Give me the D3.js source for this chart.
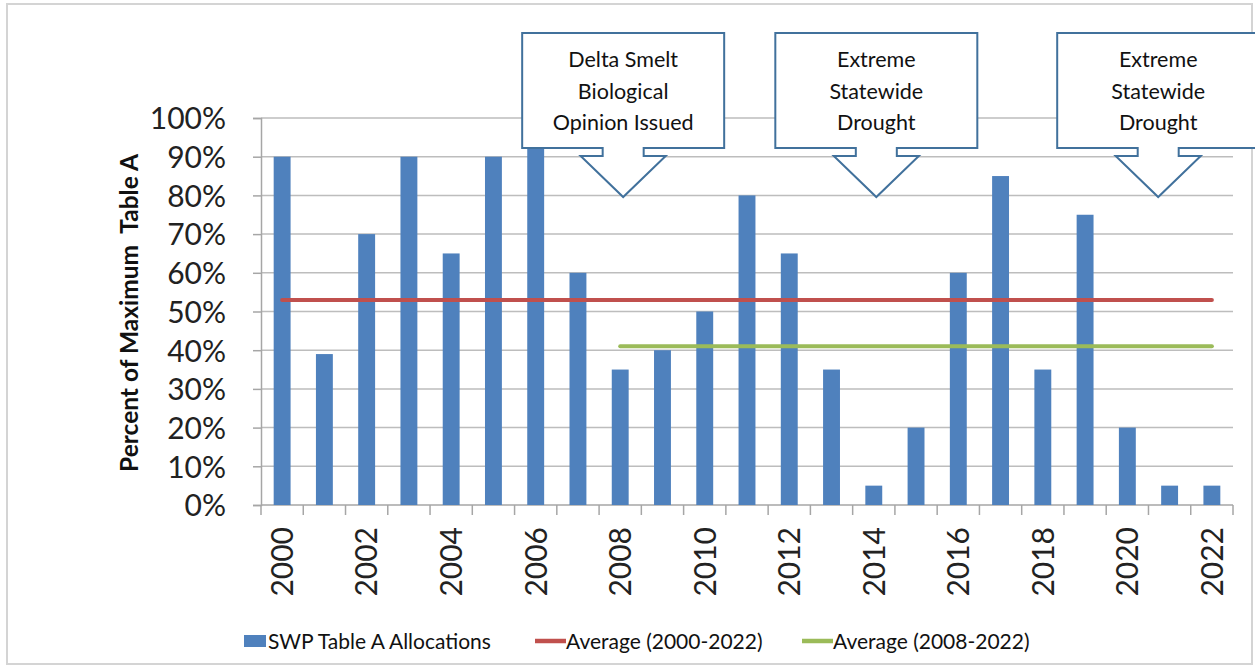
<!DOCTYPE html>
<html>
<head>
<meta charset="utf-8">
<script src="https://cdn.jsdelivr.net/npm/d3@7"></script>
<style>
  html, body { margin: 0; padding: 0; background: #fff; }
  svg { display: block; font-family: Lato, "Open Sans", sans-serif; }
</style>
</head>
<body>
<svg id="chart" width="1255" height="665"></svg>
<script>
// ---- data ----
const years = ["2000","2001","2002","2003","2004","2005","2006","2007","2008","2009","2010","2011",
               "2012","2013","2014","2015","2016","2017","2018","2019","2020","2021","2022"];
const allocations = [0.90,0.39,0.70,0.90,0.65,0.90,1.00,0.60,0.35,0.40,0.50,0.80,
                     0.65,0.35,0.05,0.20,0.60,0.85,0.35,0.75,0.20,0.05,0.05];
const avgAll = 0.53;          // Average (2000-2022)
const avgRecent = 0.41;       // Average (2008-2022)
const avgAllRange = ["2000","2022"];
const avgRecentRange = ["2008","2022"];
const yTicks = [0,0.1,0.2,0.3,0.4,0.5,0.6,0.7,0.8,0.9,1.0];
const xTickLabels = ["2000","2002","2004","2006","2008","2010","2012","2014","2016","2018","2020","2022"];
const legendLabels = ["SWP Table A Allocations","Average (2000-2022)","Average (2008-2022)"];
const yTitle = "Percent of Maximum  Table A";
const annotationTexts = [
  ["Delta Smelt","Biological","Opinion Issued"],
  ["Extreme","Statewide","Drought"],
  ["Extreme","Statewide","Drought"]
];
const annotationYears = [2008.07, 2014.06, 2020.73];

// ---- style ----
const barColor = "#4f81bd", redColor = "#c0504d", greenColor = "#9bbb59";
const gridColor = "#bdbdbd", axisColor = "#a6a6a6", calloutColor = "#41719c";

const svg = d3.select("#chart");
const L = 261, R = 1233, T = 118, B = 505;

// outer border
svg.append("rect").attr("x", 7).attr("y", 4).attr("width", 1245).attr("height", 660)
  .attr("fill", "#fff").attr("stroke", "#d4d4d4").attr("stroke-width", 2);

const x = d3.scaleBand().domain(years).range([L, R]).paddingInner(0.6).paddingOuter(0.3);
const y = d3.scaleLinear().domain([0, 1]).range([B, T]);
const cx = d => x(d) + x.bandwidth() / 2;
const yearToX = d3.scaleLinear().domain([+years[0], +years[years.length-1]])
  .range([cx(years[0]), cx(years[years.length-1])]);

// gridlines
svg.append("g").selectAll("line").data(yTicks.filter(d => d > 0)).join("line")
  .attr("x1", L).attr("x2", R).attr("y1", d => y(d)).attr("y2", d => y(d))
  .attr("stroke", gridColor).attr("stroke-width", 1.5);

// y axis
const yAxis = svg.append("g").attr("transform", `translate(${L},0)`)
  .call(d3.axisLeft(y).tickValues(yTicks).tickFormat(d3.format(".0%")).tickSize(8).tickPadding(27));
yAxis.select(".domain").attr("stroke", axisColor).attr("stroke-width", 1.5);
yAxis.selectAll(".tick line").attr("stroke", axisColor).attr("stroke-width", 1.5);
yAxis.selectAll(".tick text").attr("font-family", "Lato, sans-serif").attr("font-size", 30)
  .attr("fill", "#222").attr("dy", "0.36em");

// x axis baseline and ticks at band boundaries
const step = x.step();
const bounds = years.map(d => x(d) - (step - x.bandwidth()) / 2).concat([R]);
svg.append("line").attr("x1", L).attr("x2", R).attr("y1", B).attr("y2", B)
  .attr("stroke", axisColor).attr("stroke-width", 1.5);
svg.append("g").selectAll("line").data(bounds).join("line")
  .attr("x1", d => d).attr("x2", d => d).attr("y1", B).attr("y2", B + 10)
  .attr("stroke", axisColor).attr("stroke-width", 1.5);

// x labels
svg.append("g").selectAll("text").data(xTickLabels).join("text")
  .attr("transform", d => `translate(${cx(d)},${B + 22}) rotate(-90)`)
  .attr("text-anchor", "end").attr("dy", "0.36em")
  .attr("font-size", 30).attr("fill", "#222").text(d => d);

// y title
svg.append("text").attr("transform", `translate(138,${313}) rotate(-90)`)
  .attr("text-anchor", "middle").attr("font-weight", "bold").attr("font-size", 24.5)
  .attr("fill", "#111").style("white-space", "pre").text(yTitle);

// bars
svg.append("g").selectAll("rect").data(years).join("rect")
  .attr("x", d => x(d)).attr("width", x.bandwidth())
  .attr("y", (d, i) => y(allocations[i])).attr("height", (d, i) => B - y(allocations[i]))
  .attr("fill", barColor);

// average lines
svg.append("line").attr("x1", cx(avgAllRange[0])).attr("x2", cx(avgAllRange[1]))
  .attr("y1", y(avgAll)).attr("y2", y(avgAll))
  .attr("stroke", redColor).attr("stroke-width", 4).attr("stroke-linecap", "round");
svg.append("line").attr("x1", cx(avgRecentRange[0])).attr("x2", cx(avgRecentRange[1]))
  .attr("y1", y(avgRecent)).attr("y2", y(avgRecent))
  .attr("stroke", greenColor).attr("stroke-width", 4).attr("stroke-linecap", "round");

// callouts
const boxTop = 33, boxBot = 148, halfW = 101, stemW = 20.5, headW = 42.5, stemBot = 156, tipY = 197;
annotationYears.forEach((yr, k) => {
  const tx = yearToX(yr);
  const p = d3.path();
  p.moveTo(tx - halfW, boxTop);
  p.lineTo(tx + halfW, boxTop);
  p.lineTo(tx + halfW, boxBot);
  p.lineTo(tx + stemW, boxBot);
  p.lineTo(tx + stemW, stemBot);
  p.lineTo(tx + headW, stemBot);
  p.lineTo(tx, tipY);
  p.lineTo(tx - headW, stemBot);
  p.lineTo(tx - stemW, stemBot);
  p.lineTo(tx - stemW, boxBot);
  p.lineTo(tx - halfW, boxBot);
  p.closePath();
  svg.append("path").attr("d", p.toString()).attr("fill", "#fff")
    .attr("stroke", calloutColor).attr("stroke-width", 2).attr("stroke-linejoin", "miter");
  svg.append("g").selectAll("text").data(annotationTexts[k]).join("text")
    .attr("x", tx).attr("y", (d, i) => 67 + i * 31.5)
    .attr("text-anchor", "middle").attr("font-size", 21.5).attr("fill", "#111").text(d => d);
});

// legend
const lg = svg.append("g");
const lfs = 21;
lg.append("rect").attr("x", 244).attr("y", 635).attr("width", 22).attr("height", 12).attr("fill", barColor);
lg.append("text").attr("x", 268).attr("y", 648.5).attr("font-size", lfs).attr("fill", "#111").text(legendLabels[0]);
lg.append("line").attr("x1", 535).attr("x2", 566).attr("y1", 641).attr("y2", 641)
  .attr("stroke", redColor).attr("stroke-width", 4.5);
lg.append("text").attr("x", 566).attr("y", 648.5).attr("font-size", lfs).attr("fill", "#111").text(legendLabels[1]);
lg.append("line").attr("x1", 802).attr("x2", 833).attr("y1", 641).attr("y2", 641)
  .attr("stroke", greenColor).attr("stroke-width", 4.5);
lg.append("text").attr("x", 833).attr("y", 648.5).attr("font-size", lfs).attr("fill", "#111").text(legendLabels[2]);
</script>
</body>
</html>
